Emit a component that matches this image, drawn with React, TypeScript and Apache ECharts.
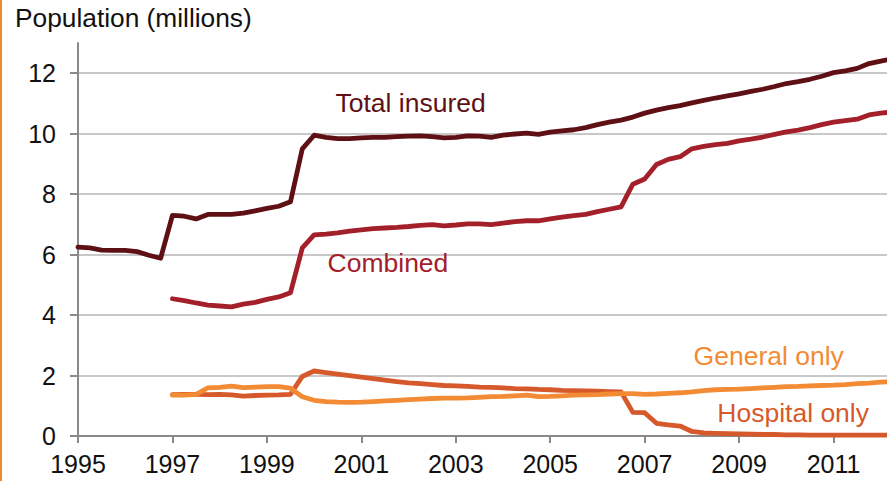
import React, { useEffect, useRef } from "react";
import * as echarts from "echarts";

// Quarterly categories, 1995 Q1 .. 2013 Q1
const years = [1995, 1996, 1997, 1998, 1999, 2000, 2001, 2002, 2003, 2004, 2005, 2006, 2007, 2008, 2009, 2010, 2011, 2012, 2013];
const quarterNames = ["Q1", "Q2", "Q3", "Q4"];
const categories = years.flatMap((y) => quarterNames.map((q) => `${y} ${q}`)).slice(0, 73);

const yTicks = [0, 2, 4, 6, 8, 10, 12];

// Values (millions), quarterly from 1995 Q1
const totalInsured = [
  6.25, 6.22, 6.15, 6.14, 6.14, 6.10, 5.98, 5.88,
  7.30, 7.27, 7.18, 7.33, 7.33, 7.33, 7.37, 7.45, 7.53, 7.60, 7.75,
  9.50, 9.95, 9.88, 9.84, 9.84, 9.86, 9.88, 9.88, 9.90, 9.92, 9.93, 9.90, 9.86, 9.88, 9.93, 9.92, 9.88, 9.95, 9.99, 10.02, 9.98, 10.05, 10.09, 10.13, 10.20, 10.30, 10.38, 10.45,
  10.55, 10.68, 10.78, 10.86, 10.93, 11.02, 11.10, 11.18, 11.25, 11.32, 11.40, 11.47, 11.56, 11.66, 11.72, 11.80, 11.90, 12.02, 12.08, 12.16, 12.32, 12.40, 12.48,
];

const combined = [
  null, null, null, null, null, null, null, null,
  4.54, 4.48, 4.40, 4.33, 4.30, 4.27, 4.36, 4.42, 4.52, 4.60, 4.74,
  6.22, 6.65, 6.68, 6.72, 6.78, 6.82, 6.86, 6.88, 6.90, 6.93, 6.97, 6.99, 6.95, 6.98, 7.02, 7.02, 6.99, 7.04, 7.09, 7.12, 7.12, 7.18, 7.24, 7.29, 7.33, 7.42, 7.50, 7.58,
  8.33, 8.50, 8.98, 9.15, 9.24, 9.50, 9.58, 9.64, 9.68, 9.76, 9.82, 9.89, 9.98, 10.06, 10.12, 10.20, 10.30, 10.38, 10.43, 10.48, 10.62, 10.68, 10.72,
];

const hospitalOnly = [
  null, null, null, null, null, null, null, null,
  1.37, 1.38, 1.38, 1.37, 1.38, 1.36, 1.32, 1.34, 1.35, 1.36, 1.38,
  1.97, 2.15, 2.10, 2.05, 2.00, 1.95, 1.90, 1.85, 1.80, 1.76, 1.73, 1.70, 1.67, 1.66, 1.64, 1.62, 1.61, 1.59, 1.57, 1.56, 1.54, 1.53, 1.51, 1.50, 1.49, 1.48, 1.47, 1.46,
  0.78, 0.77, 0.42, 0.37, 0.33, 0.15, 0.10, 0.09, 0.08, 0.07, 0.06, 0.05, 0.05, 0.04, 0.04, 0.03, 0.03, 0.03, 0.03, 0.03, 0.03, 0.03, 0.03,
];

const generalOnly = [
  null, null, null, null, null, null, null, null,
  1.35, 1.35, 1.38, 1.59, 1.61, 1.65, 1.60, 1.62, 1.63, 1.63, 1.58,
  1.30, 1.18, 1.14, 1.12, 1.11, 1.12, 1.14, 1.16, 1.18, 1.20, 1.22, 1.24, 1.25, 1.25, 1.26, 1.28, 1.30, 1.31, 1.33, 1.35, 1.30, 1.31, 1.33, 1.35, 1.36, 1.37, 1.39, 1.40,
  1.40, 1.38, 1.39, 1.41, 1.43, 1.46, 1.50, 1.53, 1.54, 1.55, 1.57, 1.59, 1.61, 1.63, 1.64, 1.66, 1.67, 1.68, 1.70, 1.73, 1.75, 1.78, 1.80,
];

const seriesNames = ["Total insured", "Combined", "Hospital only", "General only"];
const seriesColors = ["#5e1015", "#a3202a", "#d6592b", "#f28b33"];
// label anchor: [category index, value]
const labelAnchors: [number, number][] = [
  [28, 11.0],
  [26, 5.71],
  [61, 0.76],
  [58, 2.64],
];

const FONT = "'Liberation Sans', Arial, Helvetica, sans-serif";

export default function App() {
  const ref = useRef<HTMLDivElement>(null);

  useEffect(() => {
    if (!ref.current) return;
    const chart = echarts.init(ref.current, undefined, { renderer: "svg" });
    const axisGray = "#8a8a8a";
    const dataSets = [totalInsured, combined, hospitalOnly, generalOnly];
    const labelOffsets: [number, number][] = [[2, 0], [3, 0], [-5, 0], [6, 0]];
    const showTick = (i: number) => i % 8 === 0 && i < 72;

    const option: any = {
      animation: false,
      backgroundColor: "#ffffff",
      title: {
        text: "Population (millions)",
        left: 15,
        top: 5,
        padding: 0,
        textStyle: { fontFamily: FONT, fontSize: 26.3, fontWeight: "normal", color: "#111111" },
      },
      grid: { left: 78, right: 12, top: 43, bottom: 45, containLabel: false, outerBoundsMode: "none" },
      xAxis: {
        type: "category",
        data: categories,
        boundaryGap: false,
        axisLine: { show: true, lineStyle: { color: axisGray, width: 2 } },
        axisTick: {
          show: true,
          length: 7,
          interval: showTick,
          lineStyle: { color: axisGray, width: 2 },
        },
        axisLabel: {
          interval: showTick,
          formatter: (v: string) => v.slice(0, 4),
          margin: 15,
          fontSize: 25,
          fontFamily: FONT,
          color: "#111111",
        },
        splitLine: { show: false },
      },
      yAxis: {
        type: "value",
        min: 0,
        max: 13,
        interval: 2,
        axisLine: { show: true, lineStyle: { color: axisGray, width: 2 } },
        axisTick: {
          show: true,
          length: 8,
          customValues: yTicks,
          lineStyle: { color: axisGray, width: 2 },
        },
        axisLabel: {
          customValues: yTicks,
          margin: 22,
          fontSize: 25,
          fontFamily: FONT,
          color: "#111111",
        },
        splitLine: { show: true, lineStyle: { color: "#c8c8c8", width: 2 } },
      },
      series: seriesNames.map((name, k) => ({
        name,
        type: "line",
        data: dataSets[k],
        symbol: "none",
        connectNulls: false,
        lineStyle: { color: seriesColors[k], width: 4.8, join: "round", cap: "round" },
        itemStyle: { color: seriesColors[k] },
        z: 2 + k,
        markPoint: {
          symbol: "circle",
          symbolSize: 0,
          silent: true,
          label: {
            show: true,
            position: "inside",
            formatter: name,
            offset: labelOffsets[k],
            fontSize: 26.5,
            fontFamily: FONT,
            color: seriesColors[k],
          },
          data: [{ coord: labelAnchors[k], value: name }],
        },
      })),
    };
    chart.setOption(option);
    return () => chart.dispose();
  }, []);

  return (
    <div
      style={{
        position: "fixed",
        left: 0,
        top: 0,
        width: 887,
        height: 481,
        overflow: "hidden",
        background: "#ffffff",
      }}
    >
      <div ref={ref} style={{ width: 940, height: 481 }} />
      <div
        style={{
          position: "absolute",
          left: 0,
          top: 0,
          width: 2,
          height: 481,
          background: "#f08a30",
        }}
      />
    </div>
  );
}
